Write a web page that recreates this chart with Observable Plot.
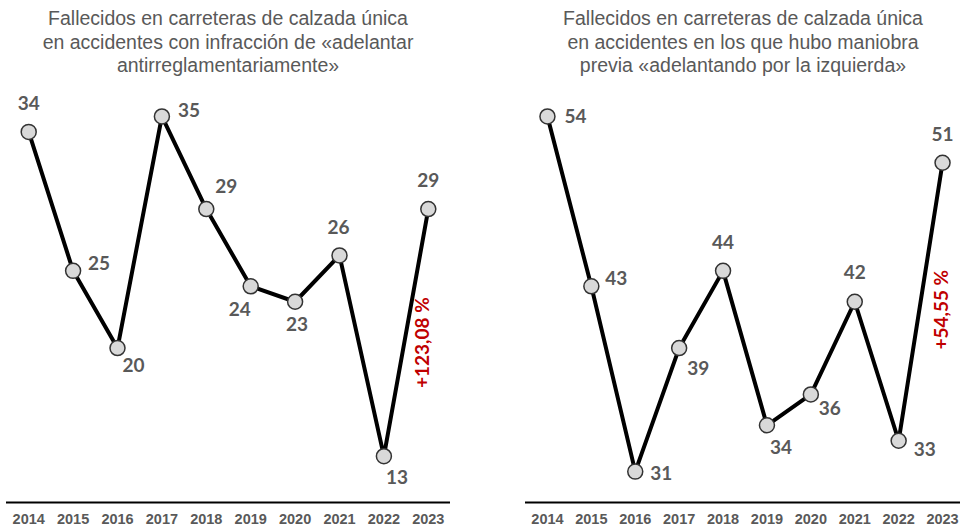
<!DOCTYPE html>
<html><head><meta charset="utf-8">
<script src="https://cdn.jsdelivr.net/npm/d3@7"></script>
<script src="https://cdn.jsdelivr.net/npm/@observablehq/plot@0.6"></script>
<style>
body{margin:0;background:#fff;}
#wrap{position:relative;width:960px;height:529px;overflow:hidden;font-family:"Liberation Sans",Arial,sans-serif;}
.title{position:absolute;top:7px;width:460px;text-align:center;color:#595959;font-size:19.5px;line-height:23.5px;z-index:2;}
.panel{position:absolute;top:0;}
</style></head><body>
<div id="wrap">
  <div class="title" id="t1" style="left:-2px"></div>
  <div class="title" id="t2" style="left:513px"></div>
  <div class="panel" id="p1" style="left:0"></div>
  <div class="panel" id="p2" style="left:480px"></div>
</div>
<script>
const years = [2014, 2015, 2016, 2017, 2018, 2019, 2020, 2021, 2022, 2023];
const leftValues = [34, 25, 20, 35, 29, 24, 23, 26, 13, 29];
const rightValues = [54, 43, 31, 39, 44, 34, 36, 42, 33, 51];
const leftTitle = ["Fallecidos en carreteras de calzada única", "en accidentes con infracción de «adelantar", "antirreglamentariamente»"];
const rightTitle = ["Fallecidos en carreteras de calzada única", "en accidentes en los que hubo maniobra", "previa «adelantando por la izquierda»"];
const leftChange = "+123,08 %";
const rightChange = "+54,55 %";

document.getElementById("t1").innerHTML = leftTitle.join("<br>");
document.getElementById("t2").innerHTML = rightTitle.join("<br>");

// label offsets (styling, per point)
const leftOffsets = [[0,-28],[26,-7],[16,18],[27,-6],[20,-22],[-11,24],[2,23],[-1,-28],[13,22],[0,-28]];
const rightOffsets = [[28,0],[25,-7],[26,2],[19,21],[0,-28],[14,23],[19,15],[0,-29],[26,9],[0,-28]];

function panel(values, domain, offsets, change, changeOffset, mLeft, mRight) {
  const rows = years.map((y, i) => ({year: y, value: values[i]}));
  const n = rows.length;
  const mid = [{year: (years[n-2] + years[n-1]) / 2, value: (values[n-2] + values[n-1]) / 2, text: change}];
  const labelMarks = rows.map((r, i) => Plot.text([r], {
    x: "year", y: "value", text: d => String(d.value),
    dx: offsets[i][0], dy: offsets[i][1],
    fill: "#595959", fontSize: 19, fontWeight: "bold",
    fontFamily: "Lato, 'Open Sans', sans-serif"
  }));
  return Plot.plot({
    width: 480, height: 529,
    marginTop: 100.5, marginBottom: 27, marginLeft: mLeft, marginRight: mRight,
    x: {domain: [2013.5, 2023.5], axis: null, label: null},
    y: {domain: domain, axis: null, label: null},
    style: {background: "transparent", overflow: "visible"},
    marks: [
      Plot.ruleY([domain[0]], {stroke: "#000", strokeWidth: 2}),
      Plot.axisX(years, {tickSize: 0, tickPadding: 11, tickFormat: d => String(d), label: null,
        fill: "#595959", fontSize: 14.5, fontWeight: "bold",
        fontFamily: "'Liberation Sans', Arial, sans-serif"}),
      Plot.line(rows, {x: "year", y: "value", stroke: "#000", strokeWidth: 4, strokeLinejoin: "round"}),
      Plot.dot(rows, {x: "year", y: "value", r: 7.5, fill: "#d9d9d9", stroke: "#333", strokeWidth: 1.5}),
      ...labelMarks,
      Plot.text(mid, {x: "year", y: "value", text: "text", rotate: -90,
        dx: changeOffset[0], dy: changeOffset[1],
        fill: "#c00000", fontSize: 19, fontWeight: "bold",
        fontFamily: "Lato, 'Open Sans', sans-serif"})
    ]
  });
}

document.getElementById("p1").append(panel(leftValues, [10, 36], leftOffsets, leftChange, [17, 10], 6, 30));
document.getElementById("p2").append(panel(rightValues, [29, 55], rightOffsets, rightChange, [21, 8], 45, -4));
</script>
</body></html>
